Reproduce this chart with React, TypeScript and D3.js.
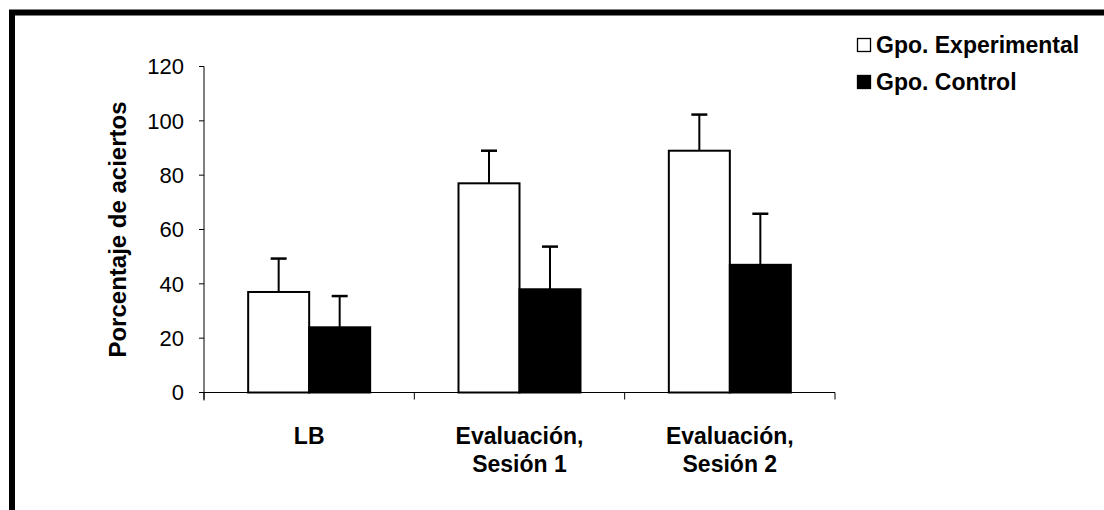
import * as d3 from 'd3'

const categories = [['LB'], ['Evaluación,', 'Sesión 1'], ['Evaluación,', 'Sesión 2']]
const seriesNames = ['Gpo. Experimental', 'Gpo. Control']
const experimental = [37, 77, 89]
const experimentalErr = [12.3, 12, 13.3]
const control = [24, 38, 47]
const controlErr = [11.5, 15.7, 18.8]
const yTicks = [0, 20, 40, 60, 80, 100, 120]

const font = '"Liberation Sans", Arial, sans-serif'

export default function App() {
  const width = 1104
  const height = 510
  const left = 204
  const right = 835
  const top = 66.5
  const bottom = 392.5

  const x = d3.scaleBand<number>()
    .domain(d3.range(categories.length))
    .range([left, right])
  const y = d3.scaleLinear().domain([0, 120]).range([bottom, top])

  const barW = 61
  const series = [
    { values: experimental, err: experimentalErr, fill: '#fff' },
    { values: control, err: controlErr, fill: '#000' },
  ]

  return (
    <svg width={width} height={height} style={{ position: 'absolute', left: 0, top: 0 }}
      fontFamily={font}>
      <rect width={width} height={height} fill="#fff" />
      {/* outer frame, right/bottom cut off */}
      <line x1={9} x2={width} y1={12.5} y2={12.5} stroke="#000" strokeWidth={6} />
      <line x1={12} x2={12} y1={10} y2={height} stroke="#000" strokeWidth={6} />

      {/* y axis */}
      <line x1={left} x2={left} y1={top} y2={bottom + 8} stroke="#000" strokeWidth={1} />
      {yTicks.map(t => (
        <g key={t}>
          <line x1={left - 5} x2={left} y1={y(t)} y2={y(t)} stroke="#000" />
          <text x={184} y={y(t)} dy="0.36em" textAnchor="end" fontSize={22}>{t}</text>
        </g>
      ))}
      <text transform={`translate(126,${(top + bottom) / 2}) rotate(-90)`} textAnchor="middle"
        fontSize={24} fontWeight="bold">Porcentaje de aciertos</text>

      {/* x axis */}
      <line x1={left} x2={right} y1={bottom} y2={bottom} stroke="#000" />
      {d3.range(categories.length + 1).map(i => {
        const xx = left + i * x.step()
        return <line key={i} x1={xx} x2={xx} y1={bottom} y2={bottom + 7} stroke="#000" />
      })}
      {categories.map((lines, i) => (
        <text key={i} textAnchor="middle" fontSize={23} fontWeight="bold">
          {lines.map((l, j) => (
            <tspan key={j} x={x(i)! + x.bandwidth() / 2} y={444 + j * 28}>{l}</tspan>
          ))}
        </text>
      ))}

      {/* bars */}
      {series.map((s, si) => s.values.map((v, i) => {
        const cx = x(i)! + x.bandwidth() / 2
        const bx = cx - barW + si * barW
        const mid = bx + barW / 2
        const errTop = y(v + s.err[i])
        return (
          <g key={`${si}-${i}`}>
            <line x1={mid} x2={mid} y1={y(v)} y2={errTop} stroke="#000" strokeWidth={2} />
            <line x1={mid - 8} x2={mid + 8} y1={errTop} y2={errTop} stroke="#000" strokeWidth={2.5} />
            <rect x={bx} y={y(v)} width={barW} height={bottom - y(v)} fill={s.fill}
              stroke="#000" strokeWidth={2} />
          </g>
        )
      }))}

      {/* legend */}
      {seriesNames.map((n, i) => (
        <g key={n} transform={`translate(857,${38 + i * 37})`}>
          <rect x={0.5} y={0.5} width={13} height={13} fill={series[i].fill} stroke="#000" strokeWidth={1.3} />
          <text x={19} y={15} fontSize={23} fontWeight="bold">{n}</text>
        </g>
      ))}
    </svg>
  )
}
